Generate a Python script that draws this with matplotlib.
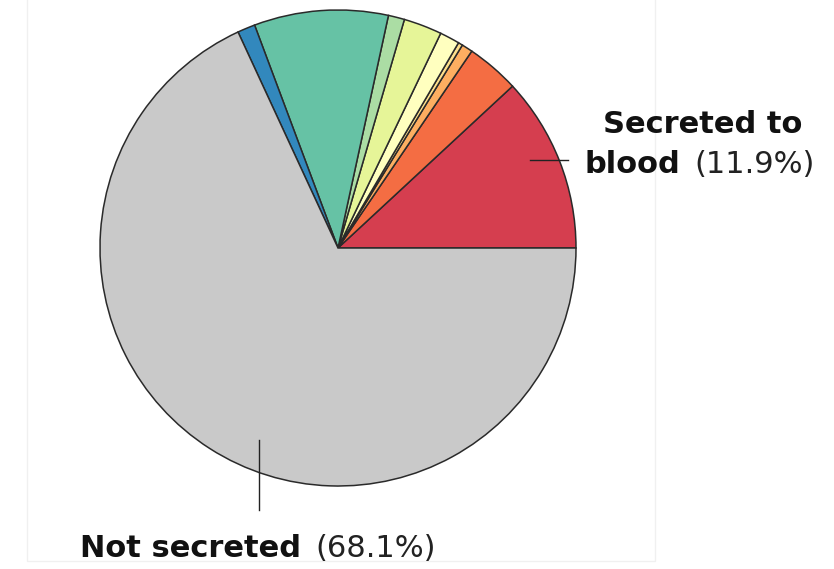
import matplotlib
matplotlib.use("Agg")
import matplotlib.pyplot as plt
from matplotlib.patches import Rectangle

# Share of proteins by secretion destination (percent), counter-clockwise from 3 o'clock
categories = [
    "Secreted to blood", "Cat 2", "Cat 3", "Cat 4", "Cat 5",
    "Cat 6", "Cat 7", "Cat 8", "Cat 9", "Not secreted",
]
shares = [11.9, 3.6, 0.75, 0.3, 1.35, 2.6, 1.1, 9.1, 1.2, 68.1]
colors = ["#d53e4f", "#f46d43", "#fdae61", "#fee08b", "#ffffbf",
          "#e6f598", "#abdda4", "#66c2a5", "#3288bd", "#c9c9c9"]

W, H = 834, 569
fig = plt.figure(figsize=(W / 100, H / 100), dpi=100)
ax = fig.add_axes([0, 0, 1, 1])

cx, cy, r = 338, H - 248, 238
ax.pie(shares, colors=colors, startangle=0, counterclock=True,
       center=(cx, cy), radius=r,
       wedgeprops=dict(edgecolor="#2a2a2a", linewidth=1.1))
ax.set_xlim(0, W)
ax.set_ylim(0, H)
ax.set_aspect("equal")
ax.axis("off")

# faint panel border
ax.add_patch(Rectangle((27, H - 561), 628, 570, fill=False,
                       edgecolor="#f0f0f0", linewidth=1.0, zorder=0))

font = "DejaVu Sans"
fs = 22
ink = "#111111"

# leader lines
ax.plot([530, 568], [H - 160, H - 160], color="#222222", lw=1.0)
ax.plot([259, 259], [H - 440, H - 510], color="#222222", lw=1.0)

fig.canvas.draw()
renderer = fig.canvas.get_renderer()


def mixed(x, y, bold_txt, reg_txt, gap=14):
    t = ax.text(x, y, bold_txt, fontsize=fs, fontweight="bold", family=font,
                color=ink, ha="left", va="baseline")
    bb = t.get_window_extent(renderer=renderer)
    x2 = x + bb.width + gap
    ax.text(x2, y, reg_txt, fontsize=fs, family=font, color="#222222",
            ha="left", va="baseline")


ax.text(703, H - 133, "Secreted to", fontsize=fs, fontweight="bold",
        family=font, color=ink, ha="center", va="baseline")
mixed(585, H - 173, "blood", "(11.9%)")
mixed(80, H - 557, "Not secreted", "(68.1%)")

fig.savefig("out.png", dpi=100, facecolor="white")
